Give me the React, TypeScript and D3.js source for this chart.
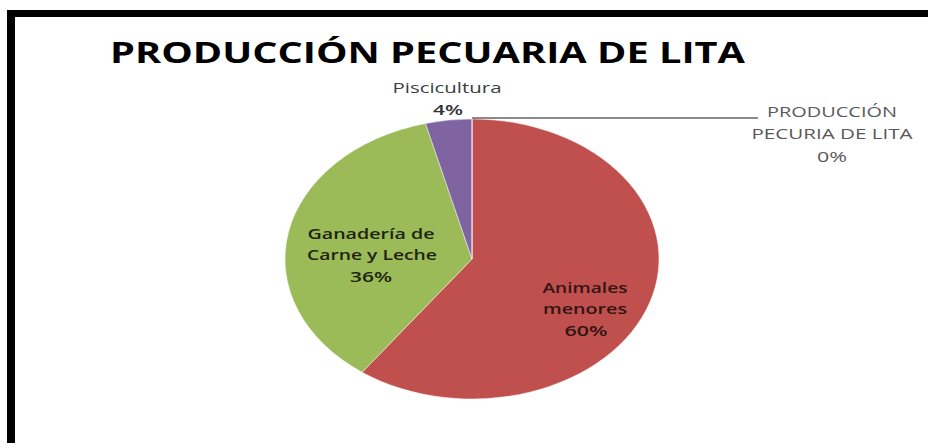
import React from "react";
import * as d3 from "d3";

const categories = ["Animales menores", "Ganadería de Carne y Leche", "Piscicultura", "PRODUCCIÓN PECURIA DE LITA"];
const values = [60, 36, 4, 0];
const colors = ["#C0504D", "#9BBB59", "#8064A2", "#4BACC6"];
const title = "PRODUCCIÓN PECUARIA DE LITA";

const W = 928;
const H = 443;
const cx = 472;
const cy = 259;
const rx = 187;
const ry = 140;

export default function App() {
  const pie = d3.pie<number>().sort(null).value((d) => d).startAngle(0).endAngle(2 * Math.PI);
  const arcs = pie(values);
  const arc = d3.arc<d3.PieArcDatum<number>>().innerRadius(0).outerRadius(ry);
  const sx = rx / ry;

  const font = "'Open Sans', 'Liberation Sans', sans-serif";
  const pct = (v: number) => `${Math.round((v / d3.sum(values)) * 100)}%`;

  const zero = arcs[3];
  const zx = cx + Math.sin(zero.startAngle) * rx;
  const zy = cy - Math.cos(zero.startAngle) * ry;

  return (
    <svg width={W} height={H} style={{ position: "absolute", left: 0, top: 0, background: "#fff" }}>
      <rect x={0} y={0} width={W} height={H} fill="#fff" />
      <rect x={7} y={10} width={W - 7} height={7} fill="#000" />
      <rect x={7} y={10} width={8} height={H - 10} fill="#000" />

      <text x={110} y={63} fontFamily={font} fontWeight={700} fontSize={28} fill="#000"
        textLength={635} lengthAdjust="spacingAndGlyphs">{title}</text>

      <g transform={`translate(${cx},${cy}) scale(${sx},1)`}>
        {arcs.map((a, i) => (
          <path key={i} d={arc(a) || ""} fill={colors[i]} stroke="#fff" strokeWidth={0.4} />
        ))}
      </g>

      <line x1={zx} y1={zy - 1} x2={758} y2={zy - 1} stroke="#8a8a8a" strokeWidth={2} />

      <g fontFamily={font} fontWeight={600} fontSize={14} fill="#331414" textAnchor="middle">
        <text x={585} y={293} textLength={85} lengthAdjust="spacingAndGlyphs">Animales</text>
        <text x={585} y={314} textLength={84} lengthAdjust="spacingAndGlyphs">menores</text>
        <text x={586} y={336} textLength={43} lengthAdjust="spacingAndGlyphs">{pct(values[0])}</text>
      </g>

      <g fontFamily={font} fontWeight={600} fontSize={14} fill="#1e2412" textAnchor="middle">
        <text x={371} y={239} textLength={127} lengthAdjust="spacingAndGlyphs">Ganadería de</text>
        <text x={372} y={260} textLength={130} lengthAdjust="spacingAndGlyphs">Carne y Leche</text>
        <text x={371} y={282} textLength={42} lengthAdjust="spacingAndGlyphs">{pct(values[1])}</text>
      </g>

      <g fontFamily={font} fontSize={14} textAnchor="middle">
        <text x={447} y={93} fill="#404040" textLength={109} lengthAdjust="spacingAndGlyphs">{categories[2]}</text>
        <text x={448} y={115} fill="#333" fontWeight={600} textLength={30} lengthAdjust="spacingAndGlyphs">{pct(values[2])}</text>
      </g>

      <g fontFamily={font} fontSize={14} fill="#595959" textAnchor="middle">
        <text x={832} y={117} textLength={130} lengthAdjust="spacingAndGlyphs">PRODUCCIÓN</text>
        <text x={832} y={139} textLength={161} lengthAdjust="spacingAndGlyphs">PECURIA DE LITA</text>
        <text x={832} y={162} textLength={30} lengthAdjust="spacingAndGlyphs">{pct(values[3])}</text>
      </g>
    </svg>
  );
}
